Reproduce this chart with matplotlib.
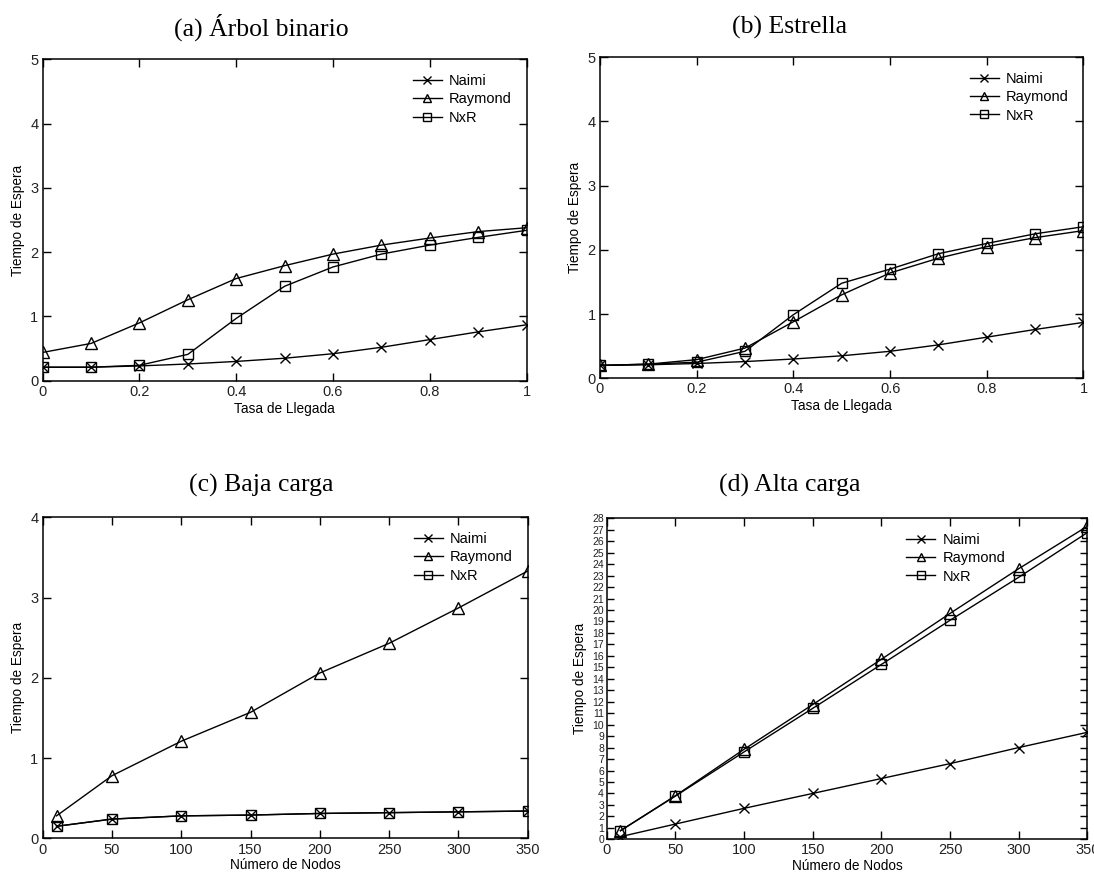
import numpy as np
import matplotlib
matplotlib.use("Agg")
from matplotlib import pyplot as plt

plt.rcParams['font.family'] = ['Liberation Sans', 'DejaVu Sans']

# tasa de llegada (paneles a y b)
tasa = [0, 0.1, 0.2, 0.3, 0.4, 0.5, 0.6, 0.7, 0.8, 0.9, 1.0]

# (a) arbol binario
a_naimi = [0.21, 0.21, 0.23, 0.26, 0.30, 0.35, 0.42, 0.52, 0.64, 0.76, 0.87]
a_raymond = [0.44, 0.58, 0.90, 1.26, 1.59, 1.79, 1.97, 2.11, 2.22, 2.32, 2.38]
a_nxr = [0.21, 0.21, 0.24, 0.41, 0.97, 1.47, 1.77, 1.97, 2.11, 2.23, 2.34]

# (b) estrella
b_naimi = [0.20, 0.21, 0.23, 0.26, 0.30, 0.35, 0.42, 0.52, 0.64, 0.76, 0.87]
b_raymond = [0.20, 0.22, 0.29, 0.47, 0.88, 1.30, 1.64, 1.87, 2.05, 2.19, 2.30]
b_nxr = [0.20, 0.22, 0.25, 0.42, 0.99, 1.48, 1.70, 1.94, 2.10, 2.25, 2.36]

# numero de nodos (paneles c y d)
nodos = [10, 50, 100, 150, 200, 250, 300, 350]

# (c) baja carga
c_naimi = [0.15, 0.24, 0.28, 0.29, 0.31, 0.32, 0.33, 0.34]
c_raymond = [0.28, 0.78, 1.21, 1.57, 2.06, 2.43, 2.87, 3.33]
c_nxr = [0.15, 0.24, 0.28, 0.29, 0.31, 0.32, 0.33, 0.34]

# (d) alta carga
d_naimi = [0.23, 1.33, 2.70, 4.00, 5.30, 6.60, 8.00, 9.33]
d_raymond = [0.75, 3.80, 7.85, 11.75, 15.70, 19.70, 23.60, 27.30]
d_nxr = [0.75, 3.77, 7.62, 11.42, 15.25, 19.10, 22.85, 26.75]

titulos = ["(a) Árbol binario", "(b) Estrella", "(c) Baja carga", "(d) Alta carga"]

fig = plt.figure(figsize=(10.94, 8.75), dpi=100)

pos = [
    [0.0390, 0.5649, 0.4424, 0.3673],
    [0.5484, 0.5677, 0.4420, 0.3669],
    [0.0390, 0.0419, 0.4433, 0.3669],
    [0.5546, 0.0408, 0.4393, 0.3669],
]
tit_xy = [(261, 27), (790, 27), (261, 485), (790, 485)]

datos = [
    (tasa, a_naimi, a_raymond, a_nxr),
    (tasa, b_naimi, b_raymond, b_nxr),
    (nodos, c_naimi, c_raymond, c_nxr),
    (nodos, d_naimi, d_raymond, d_nxr),
]

for i in range(4):
    ax = fig.add_axes(pos[i])
    x, n, r, q = datos[i]
    kw = dict(color='black', lw=1.0, markerfacecolor='none', markeredgewidth=1.0)
    ax.plot(x, n, marker='x', ms=7, label='Naimi', **kw)
    ax.plot(x, r, marker='^', ms=8, label='Raymond', **kw)
    ax.plot(x, q, marker='s', ms=7, label='NxR', **kw)

    if i < 2:
        ax.set_xlim(0, 1)
        ax.set_ylim(0, 5)
        ax.set_xticks([0, 0.2, 0.4, 0.6, 0.8, 1.0])
        ax.set_xticklabels(['0', '0.2', '0.4', '0.6', '0.8', '1'])
        ax.set_yticks([0, 1, 2, 3, 4, 5])
        ax.set_xlabel('Tasa de Llegada', fontsize=9.8, labelpad=2)
    else:
        ax.set_xlim(0, 350)
        ax.set_xticks(np.arange(0, 351, 50))
        ax.set_xlabel('Número de Nodos', fontsize=9.8, labelpad=1)
        if i == 2:
            ax.set_ylim(0, 4)
            ax.set_yticks([0, 1, 2, 3, 4])
        else:
            ax.set_ylim(0, 28)
            ax.set_yticks(np.arange(0, 29, 1))
    ax.set_ylabel('Tiempo de Espera', fontsize=9.8, labelpad=4)

    ax.tick_params(direction='in', top=True, right=True, length=6, width=1.0,
                   labelsize=10.5, pad=3, colors='black', labelcolor='#222222')
    if i == 3:
        ax.tick_params(axis='y', labelsize=7.5, length=5, pad=2)
    for s in ax.spines.values():
        s.set_linewidth(1.1)

    leg = ax.legend(loc='upper right', frameon=False, fontsize=10.5,
                    handlelength=2.0, handletextpad=0.5, labelspacing=0.3,
                    markerscale=0.75, borderaxespad=0.6)
    if i == 3:
        leg.set_bbox_to_anchor((0.86, 1.0))

    fig.text(tit_xy[i][0] / 1094, 1 - tit_xy[i][1] / 875, titulos[i],
             ha='center', va='center', fontsize=18.5, family='Liberation Serif')

fig.savefig('out.png', dpi=100)
